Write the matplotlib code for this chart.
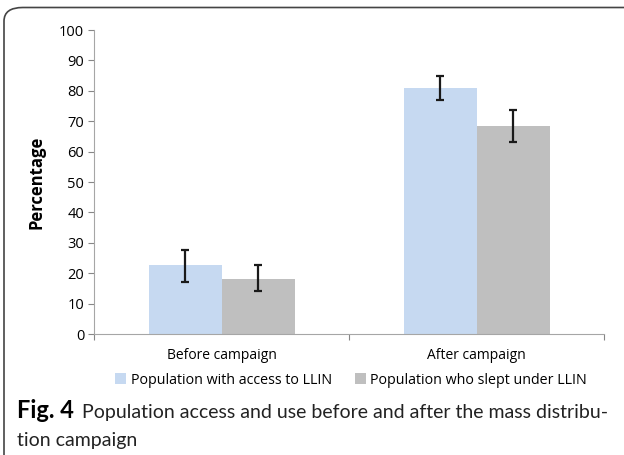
import matplotlib
matplotlib.use("Agg")
import matplotlib.pyplot as plt
import numpy as np
from matplotlib.patches import FancyBboxPatch

categories = ["Before campaign", "After campaign"]
series = ["Population with access to LLIN", "Population who slept under LLIN"]
access = [22.6, 80.8]
access_lo = [17.2, 76.9]
access_hi = [27.6, 85.0]
slept = [18.2, 68.5]
slept_lo = [14.1, 63.1]
slept_hi = [22.7, 73.8]

plt.rcParams["font.family"] = ["Open Sans", "DejaVu Sans"]

W, H = 624, 455
fig = plt.figure(figsize=(W / 100, H / 100), dpi=100)
ax = fig.add_axes([94 / W, 1 - 334 / H, (604 - 94) / W, (334 - 30) / H])

x = np.arange(len(categories))
bw = 73 / 255
cols = ["#C6D9F1", "#BFBFBF"]
for i, (vals, lo, hi) in enumerate([(access, access_lo, access_hi),
                                    (slept, slept_lo, slept_hi)]):
    pos = x + (i - 0.5) * bw
    vals = np.array(vals)
    yerr = [vals - np.array(lo), np.array(hi) - vals]
    ax.bar(pos, vals, width=bw, color=cols[i], label=series[i], zorder=2)
    ax.errorbar(pos, vals, yerr=yerr, fmt="none", ecolor="#1a1a1a",
                elinewidth=1.6, capsize=2.8, capthick=1.6, zorder=3)

ax.set_xlim(-0.5, 1.5)
ax.set_ylim(0, 100)
ax.set_yticks(np.arange(0, 101, 10))
ax.set_xticks([-0.5, 0.5, 1.5])
ax.set_xticklabels([])
ax.set_xticks(x, minor=True)
ax.set_xticklabels(categories, minor=True, fontsize=10)
ax.tick_params(axis="x", which="minor", length=0, pad=10)
ax.tick_params(axis="x", which="major", length=4, color="#868686")
ax.tick_params(axis="y", length=4, color="#868686", labelsize=10.5, pad=3)
for s in ["top", "right"]:
    ax.spines[s].set_visible(False)
for s in ["left", "bottom"]:
    ax.spines[s].set_color("#a6a6a6")
ax.set_ylabel("Percentage", fontsize=12, fontweight="bold", labelpad=10)

fig.legend(loc="center", bbox_to_anchor=(351 / W, 1 - 380 / H), ncol=2,
           frameon=False, fontsize=10.3, handlelength=0.8, handleheight=0.8,
           handletextpad=0.3, columnspacing=1.6)

# rounded frame
frame = FancyBboxPatch((4 / W, -0.1), 640 / W, (448 + 45) / H,
                       boxstyle="round,pad=0,rounding_size=0.03",
                       transform=fig.transFigure, fill=False,
                       edgecolor="#444444", linewidth=1.2, clip_on=False)
fig.add_artist(frame)

cap_fonts = ["Lato", "DejaVu Sans"]
t1 = fig.text(17 / W, 1 - 418 / H, "Fig. 4", fontsize=17, fontweight="bold",
              va="baseline", family=cap_fonts)
fig.canvas.draw()
ext = t1.get_window_extent()
t2 = fig.text((ext.x1 + 8) / W, 1 - 418 / H,
              "Population access and use before and after the mass distribu-",
              fontsize=15, va="baseline", color="#222222", family=cap_fonts)
fig.canvas.draw()
w2 = t2.get_window_extent().width
fs = 15 * (608 - ext.x1 - 8) / w2
t2.set_fontsize(fs)
fig.text(17 / W, 1 - 446 / H, "tion campaign", fontsize=fs, va="baseline",
         color="#222222", family=cap_fonts)

fig.savefig("out.png", dpi=100, facecolor="white")
